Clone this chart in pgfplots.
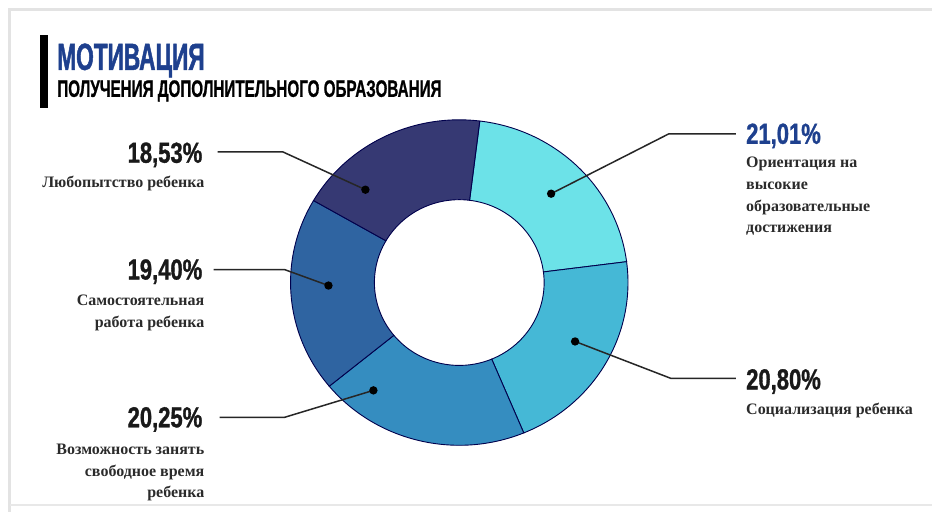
\documentclass[border=0pt]{standalone}
\usepackage{pgfplots}
\pgfplotsset{compat=1.18}
\usepackage{pgfplotstable}
\usepackage{fontspec}
\setmainfont{Liberation Serif}
\newfontfamily\condfont[FakeStretch=0.60, FakeBold=1.2]{Liberation Sans}
\newfontfamily\subfont[FakeStretch=0.64, FakeBold=0.8]{Liberation Sans}
\newfontfamily\numfont[FakeStretch=0.76, FakeBold=1]{Liberation Sans}
\newfontfamily\labfont{Liberation Serif}

\definecolor{cOrient}{HTML}{6CE2E8}
\definecolor{cSocial}{HTML}{45B8D6}
\definecolor{cVozm}{HTML}{358DC0}
\definecolor{cSamost}{HTML}{2F64A1}
\definecolor{cLyub}{HTML}{363973}
\definecolor{titleblue}{HTML}{1E408E}
\definecolor{labgray}{HTML}{2B2B2B}

% shares of the donut, clockwise from the top
\pgfplotstableread{
name value
Orient 21.01
Social 20.80
Vozm 20.25
Samost 19.40
Lyub 18.53
}\sharetable

\begin{document}
\begin{tikzpicture}
% cumulative angles, clockwise from 83 degrees
\def\startang{83}
\xdef\angcur{\startang}
\foreach \i in {0,...,4}{
  \pgfplotstablegetelem{\i}{value}\of\sharetable
  \pgfmathsetmacro{\na}{\angcur-3.6*\pgfplotsretval}
  \expandafter\xdef\csname angS\i\endcsname{\angcur}
  \expandafter\xdef\csname angE\i\endcsname{\na}
  \xdef\angcur{\na}
}
\begin{axis}[
  width=466.5pt, height=256.5pt, scale only axis,
  xmin=0, xmax=933, ymin=0, ymax=513,
  hide axis, clip=false,
]
\def\cx{460}\def\cy{230}
\def\Rx{169}\def\Ry{163}\def\rx{85}\def\ry{83}
% page extent
\path[fill=white] (axis cs:0,0) rectangle (axis cs:933,513);
% frame shadow
\draw[gray!22, line width=1.5pt] (axis cs:933,503) -- (axis cs:10,503) -- (axis cs:10,0);
\draw[gray!18, line width=1pt] (axis cs:10,7) -- (axis cs:933,7);

% donut wedges
\foreach \i/\col in {0/cOrient,1/cSocial,2/cVozm,3/cSamost,4/cLyub}{
  \edef\a{\csname angS\i\endcsname}
  \edef\b{\csname angE\i\endcsname}
  \edef\temp{\noexpand\fill[\col, draw=black!70!blue, line width=0.45pt]
    (axis cs:{\cx+\Rx*cos(\a)},{\cy+\Ry*sin(\a)})
    arc[start angle=\a, end angle=\b, x radius=84.5pt, y radius=81.5pt]
    -- (axis cs:{\cx+\rx*cos(\b)},{\cy+\ry*sin(\b)})
    arc[start angle=\b, end angle=\a, x radius=42.5pt, y radius=41.5pt]
    -- cycle;}
  \temp
}

% leader lines
\draw[black!85, line width=0.75pt] (axis cs:218,361) -- (axis cs:283,361) -- (axis cs:366,323);
\draw[black!85, line width=0.75pt] (axis cs:214,243) -- (axis cs:285,243) -- (axis cs:329,227);
\draw[black!85, line width=0.75pt] (axis cs:220,95) -- (axis cs:285,95) -- (axis cs:374,122);
\draw[black!85, line width=0.75pt] (axis cs:737,379) -- (axis cs:670,379) -- (axis cs:552,319);
\draw[black!85, line width=0.75pt] (axis cs:737,134) -- (axis cs:672,134) -- (axis cs:576,171);
\fill[black] (axis cs:366,323) circle[radius=2.1pt];
\fill[black] (axis cs:329,227) circle[radius=2.1pt];
\fill[black] (axis cs:374,122) circle[radius=2.1pt];
\fill[black] (axis cs:552,319) circle[radius=2.1pt];
\fill[black] (axis cs:576,171) circle[radius=2.1pt];

% title
\fill[black] (axis cs:40,405) rectangle (axis cs:48,478);
\node[anchor=base west, inner sep=0pt, text=titleblue] at (axis cs:57,443)
  {\condfont\bfseries\fontsize{18.9}{20}\selectfont МОТИВАЦИЯ};
\node[anchor=base west, inner sep=0pt, text=black] at (axis cs:57,416)
  {\subfont\bfseries\fontsize{11.9}{13}\selectfont ПОЛУЧЕНИЯ ДОПОЛНИТЕЛЬНОГО ОБРАЗОВАНИЯ};

% left labels
\node[anchor=base east, inner sep=0pt, text=black!90] at (axis cs:203,350)
  {\numfont\bfseries\fontsize{14.5}{16}\selectfont 18,53\%};
\node[anchor=base east, inner sep=0pt, text=labgray] at (axis cs:205,325)
  {\labfont\bfseries\fontsize{8}{11}\selectfont Любопытство ребенка};

\node[anchor=base east, inner sep=0pt, text=black!90] at (axis cs:203,233)
  {\numfont\bfseries\fontsize{14.5}{16}\selectfont 19,40\%};
\node[anchor=base east, inner sep=0pt, text=labgray] at (axis cs:205,207)
  {\labfont\bfseries\fontsize{8}{11}\selectfont Самостоятельная};
\node[anchor=base east, inner sep=0pt, text=labgray] at (axis cs:205,185)
  {\labfont\bfseries\fontsize{8}{11}\selectfont работа ребенка};

\node[anchor=base east, inner sep=0pt, text=black!90] at (axis cs:203,85)
  {\numfont\bfseries\fontsize{14.5}{16}\selectfont 20,25\%};
\node[anchor=base east, inner sep=0pt, text=labgray] at (axis cs:205,58)
  {\labfont\bfseries\fontsize{8}{11}\selectfont Возможность занять};
\node[anchor=base east, inner sep=0pt, text=labgray] at (axis cs:205,36)
  {\labfont\bfseries\fontsize{8}{11}\selectfont свободное время};
\node[anchor=base east, inner sep=0pt, text=labgray] at (axis cs:205,15)
  {\labfont\bfseries\fontsize{8}{11}\selectfont ребенка};

% right labels
\node[anchor=base west, inner sep=0pt, text=titleblue] at (axis cs:747,369)
  {\numfont\bfseries\fontsize{14.5}{16}\selectfont 21,01\%};
\node[anchor=base west, inner sep=0pt, text=labgray] at (axis cs:747,345)
  {\labfont\bfseries\fontsize{8}{11}\selectfont Ориентация на};
\node[anchor=base west, inner sep=0pt, text=labgray] at (axis cs:747,323)
  {\labfont\bfseries\fontsize{8}{11}\selectfont высокие};
\node[anchor=base west, inner sep=0pt, text=labgray] at (axis cs:747,301)
  {\labfont\bfseries\fontsize{8}{11}\selectfont образовательные};
\node[anchor=base west, inner sep=0pt, text=labgray] at (axis cs:747,280)
  {\labfont\bfseries\fontsize{8}{11}\selectfont достижения};

\node[anchor=base west, inner sep=0pt, text=black!90] at (axis cs:747,123)
  {\numfont\bfseries\fontsize{14.5}{16}\selectfont 20,80\%};
\node[anchor=base west, inner sep=0pt, text=labgray] at (axis cs:747,98)
  {\labfont\bfseries\fontsize{8}{11}\selectfont Социализация ребенка};
\end{axis}
\end{tikzpicture}
\end{document}
